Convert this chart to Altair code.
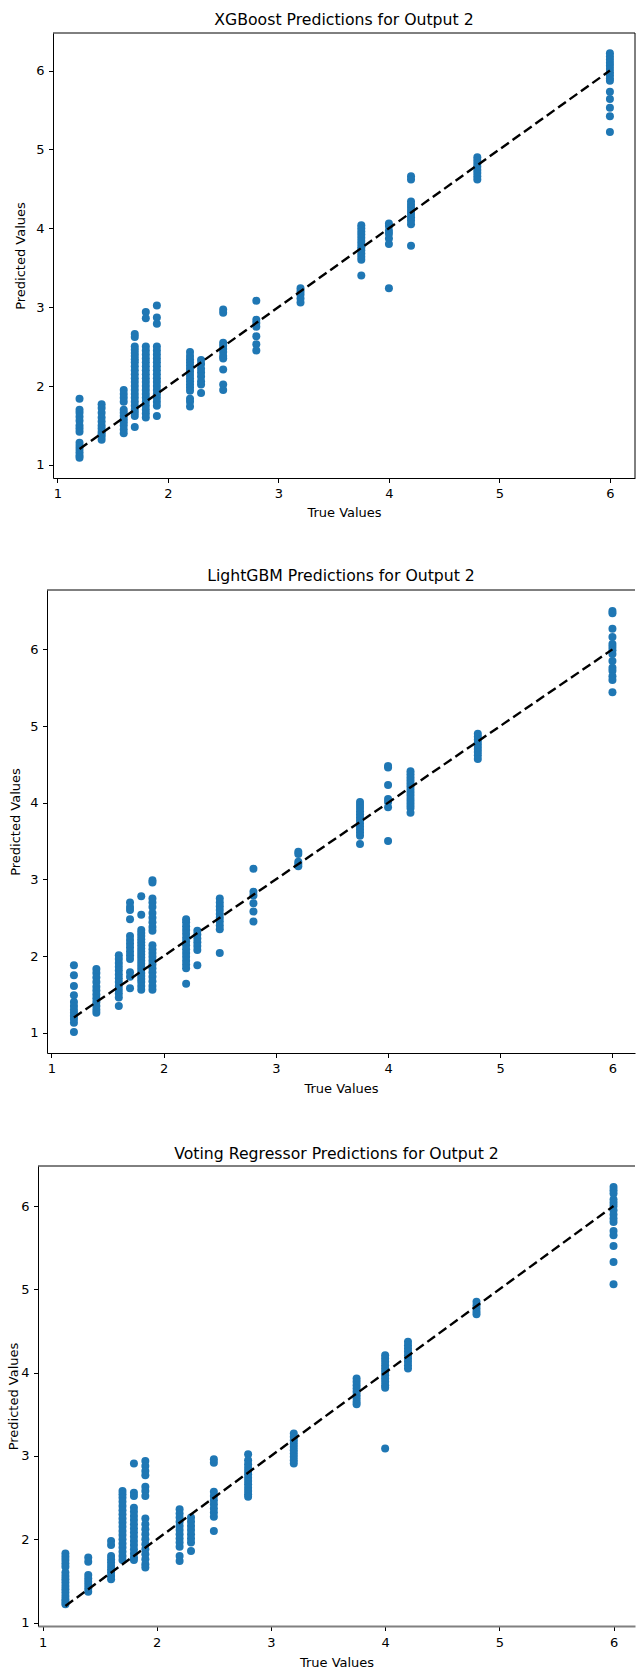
import altair as alt
import pandas as pd

# Distinct true target levels (x positions of the vertical clusters)
TRUE_LEVELS = [1.2, 1.4, 1.6, 1.7, 1.8, 1.9, 2.2, 2.3, 2.5, 2.8, 3.2, 3.75, 4.0, 4.2, 4.8, 6.0]

# Predicted values for each true level, one list per level
XGB_PRED = [
    [1.84, 1.70, 1.66, 1.61, 1.56, 1.50, 1.46, 1.42, 1.28, 1.24, 1.20, 1.16, 1.12, 1.09],
    [1.77, 1.72, 1.66, 1.60, 1.55, 1.50, 1.46, 1.42, 1.39, 1.36, 1.32],
    [1.95, 1.90, 1.85, 1.80, 1.70, 1.66, 1.62, 1.58, 1.54, 1.50, 1.45, 1.40],
    [2.66, 2.62, 2.50, 2.46, 2.42, 2.38, 2.34, 2.30, 2.25, 2.20, 2.15, 2.10, 2.05, 2.00,
     1.95, 1.90, 1.85, 1.80, 1.75, 1.70, 1.66, 1.62, 1.48],
    [2.94, 2.86, 2.50, 2.45, 2.40, 2.35, 2.30, 2.25, 2.20, 2.15, 2.10, 2.05, 2.00, 1.95,
     1.90, 1.85, 1.80, 1.75, 1.70, 1.65, 1.60],
    [3.02, 2.87, 2.79, 2.50, 2.45, 2.40, 2.35, 2.30, 2.25, 2.20, 2.15, 2.10, 2.05, 2.00,
     1.95, 1.90, 1.85, 1.80, 1.75, 1.62],
    [2.43, 2.38, 2.34, 2.30, 2.26, 2.22, 2.18, 2.14, 2.10, 2.06, 2.02, 1.98, 1.94, 1.84, 1.80, 1.74],
    [2.33, 2.28, 2.22, 2.17, 2.12, 2.06, 2.02, 1.91],
    [2.97, 2.93, 2.55, 2.51, 2.47, 2.43, 2.38, 2.35, 2.21, 2.02, 1.95],
    [3.08, 2.84, 2.80, 2.75, 2.63, 2.53, 2.45],
    [3.24, 3.20, 3.16, 3.11, 3.06],
    [4.04, 4.00, 3.96, 3.92, 3.88, 3.84, 3.80, 3.76, 3.72, 3.68, 3.64, 3.60, 3.40],
    [4.06, 4.03, 3.97, 3.93, 3.87, 3.80, 3.24],
    [4.66, 4.62, 4.34, 4.30, 4.26, 4.22, 4.18, 4.14, 4.10, 4.05, 3.78],
    [4.90, 4.86, 4.82, 4.78, 4.74, 4.70, 4.66, 4.62],
    [6.22, 6.18, 6.14, 6.10, 6.06, 6.02, 5.98, 5.94, 5.90, 5.87, 5.73, 5.64, 5.53, 5.42, 5.22],
]

LGBM_PRED = [
    [1.88, 1.75, 1.61, 1.49, 1.40, 1.35, 1.30, 1.26, 1.22, 1.18, 1.13, 1.01],
    [1.83, 1.78, 1.72, 1.66, 1.60, 1.55, 1.50, 1.45, 1.40, 1.35, 1.30, 1.26],
    [2.01, 1.96, 1.91, 1.86, 1.81, 1.76, 1.71, 1.66, 1.61, 1.56, 1.51, 1.46, 1.35],
    [2.70, 2.64, 2.60, 2.48, 2.26, 2.21, 2.16, 2.11, 2.06, 2.01, 1.96, 1.79, 1.73, 1.58],
    [2.78, 2.54, 2.34, 2.30, 2.26, 2.22, 2.18, 2.14, 2.10, 2.06, 2.02, 1.98, 1.94, 1.90,
     1.86, 1.82, 1.78, 1.74, 1.70, 1.66, 1.61, 1.56],
    [2.99, 2.96, 2.75, 2.70, 2.64, 2.56, 2.50, 2.44, 2.38, 2.33, 2.14, 2.09, 2.04, 1.99,
     1.94, 1.89, 1.84, 1.79, 1.73, 1.67, 1.61, 1.56],
    [2.48, 2.44, 2.39, 2.34, 2.29, 2.24, 2.19, 2.14, 2.09, 2.04, 1.99, 1.94, 1.89, 1.84, 1.64],
    [2.33, 2.28, 2.23, 2.18, 2.13, 2.08, 1.88],
    [2.75, 2.70, 2.65, 2.60, 2.55, 2.50, 2.45, 2.40, 2.35, 2.04],
    [3.14, 2.84, 2.79, 2.69, 2.58, 2.45],
    [3.36, 3.33, 3.23, 3.20, 3.17],
    [4.01, 3.97, 3.93, 3.89, 3.85, 3.81, 3.77, 3.73, 3.69, 3.65, 3.61, 3.57, 3.46],
    [4.48, 4.46, 4.23, 4.05, 4.01, 3.94, 3.50],
    [4.41, 4.37, 4.33, 4.29, 4.25, 4.21, 4.17, 4.13, 4.09, 4.05, 4.01, 3.97, 3.93, 3.87],
    [4.90, 4.86, 4.82, 4.78, 4.74, 4.70, 4.66, 4.62, 4.57],
    [6.50, 6.47, 6.27, 6.16, 6.07, 6.03, 5.99, 5.94, 5.85, 5.76, 5.72, 5.65, 5.60, 5.44],
]

VOTE_PRED = [
    [1.83, 1.79, 1.75, 1.71, 1.67, 1.60, 1.56, 1.52, 1.48, 1.44, 1.40, 1.36, 1.32, 1.28, 1.25, 1.22],
    [1.78, 1.73, 1.57, 1.53, 1.49, 1.45, 1.41, 1.37],
    [1.98, 1.93, 1.80, 1.76, 1.72, 1.68, 1.64, 1.60, 1.56, 1.52],
    [2.58, 2.54, 2.50, 2.45, 2.40, 2.35, 2.30, 2.25, 2.20, 2.15, 2.10, 2.05, 2.00, 1.95,
     1.90, 1.85, 1.80, 1.75],
    [2.91, 2.56, 2.52, 2.38, 2.33, 2.28, 2.23, 2.18, 2.13, 2.08, 2.03, 1.98, 1.93, 1.88,
     1.83, 1.78, 1.75],
    [2.94, 2.88, 2.82, 2.77, 2.63, 2.58, 2.52, 2.25, 2.18, 2.12, 2.06, 2.00, 1.94, 1.88,
     1.82, 1.76, 1.70, 1.66],
    [2.36, 2.31, 2.26, 2.21, 2.16, 2.11, 2.06, 2.01, 1.96, 1.91, 1.80, 1.74],
    [2.26, 2.21, 2.16, 2.11, 2.06, 2.01, 1.96, 1.86],
    [2.96, 2.92, 2.57, 2.52, 2.47, 2.42, 2.37, 2.32, 2.27, 2.10],
    [3.02, 2.95, 2.90, 2.86, 2.82, 2.78, 2.74, 2.70, 2.66, 2.62, 2.58, 2.54, 2.51],
    [3.27, 3.23, 3.19, 3.15, 3.11, 3.07, 3.03, 2.99, 2.95, 2.91],
    [3.93, 3.89, 3.85, 3.81, 3.77, 3.73, 3.69, 3.65, 3.62],
    [4.21, 4.17, 4.13, 4.09, 4.05, 4.01, 3.97, 3.93, 3.89, 3.85, 3.82, 3.09],
    [4.37, 4.33, 4.29, 4.25, 4.21, 4.17, 4.13, 4.09, 4.05],
    [4.85, 4.81, 4.77, 4.73, 4.70],
    [6.23, 6.19, 6.15, 6.08, 6.04, 6.00, 5.95, 5.90, 5.85, 5.81, 5.70, 5.65, 5.52, 5.33, 5.06],
]

TITLES = [
    "XGBoost Predictions for Output 2",
    "LightGBM Predictions for Output 2",
    "Voting Regressor Predictions for Output 2",
]
TICKS = [1, 2, 3, 4, 5, 6]

FONT = "DejaVu Sans"
BLUE = "#1f77b4"
ONE_ROW = pd.DataFrame({"k": [0]})


def long_table(preds):
    rows = [(t, p) for t, ps in zip(TRUE_LEVELS, preds) for p in ps]
    return pd.DataFrame(rows, columns=["true", "pred"])


def panel(title, preds, width, height, xdom, ydom, left_extent, bottom_extent,
          ytitle_x, xtitle_y, title_offset, title_dy, right_border,
          bottom_color="black", bottom_width=1, x_label_pad=4.5):
    df = long_table(preds)
    x_scale = alt.Scale(domain=xdom, nice=False, zero=False)
    y_scale = alt.Scale(domain=ydom, nice=False, zero=False)
    common = dict(
        values=TICKS, grid=False,
        tickColor="black", tickSize=4.5, tickWidth=1,
        labelFont=FONT, labelFontSize=13, labelColor="black", labelFlush=False,
        titleFont=FONT, titleFontSize=13, titleFontWeight="normal", titleColor="black",
    )
    x_axis = alt.Axis(title="True Values", titleY=xtitle_y, titleBaseline="middle",
                      domainColor=bottom_color, domainWidth=bottom_width,
                      labelPadding=x_label_pad, **common)
    y_axis = alt.Axis(title="Predicted Values", titleX=ytitle_x, titleY=height / 2,
                      titleAngle=270, titleAlign="center", titleBaseline="middle",
                      domainColor="black", domainWidth=1, labelPadding=4.5, **common)

    points = alt.Chart(df).mark_circle(size=64, color=BLUE, opacity=1).encode(
        x=alt.X("true:Q", scale=x_scale, axis=x_axis),
        y=alt.Y("pred:Q", scale=y_scale, axis=y_axis),
    )
    # identity reference from the lowest to the highest true level
    ends = [min(TRUE_LEVELS), max(TRUE_LEVELS)]
    ident = pd.DataFrame({"true": ends, "pred": ends})
    line = alt.Chart(ident).mark_line(color="black", strokeWidth=2.4, strokeDash=[9.5, 4.5]).encode(
        x=alt.X("true:Q", scale=x_scale, axis=x_axis),
        y=alt.Y("pred:Q", scale=y_scale, axis=y_axis),
    )
    # invisible guide that fixes the panel's outer extent (left margin / space below)
    extent = alt.Chart(ONE_ROW).mark_rule(opacity=0, strokeWidth=0).encode(
        x=alt.value(-left_extent), x2=alt.value(0),
        y=alt.value(height), y2=alt.value(height + bottom_extent),
    )
    top_edge = alt.Chart(ONE_ROW).mark_rule(color="black", strokeWidth=1).encode(
        x=alt.value(0), x2=alt.value(width), y=alt.value(0)
    )
    layers = [extent, top_edge]
    if right_border:
        layers.append(alt.Chart(ONE_ROW).mark_rule(color="black", strokeWidth=1).encode(
            x=alt.value(width), y=alt.value(0), y2=alt.value(height)
        ))
    layers += [points, line]
    return alt.layer(*layers).properties(
        width=width, height=height,
        title=alt.TitleParams(title, font=FONT, fontSize=15.7, fontWeight="normal",
                              color="black", offset=title_offset, dy=title_dy,
                              baseline="alphabetic", frame="group", anchor="middle"),
    )


def spacer(w):
    return alt.Chart(ONE_ROW).mark_rule(opacity=0, strokeWidth=0).encode(
        x=alt.value(0), x2=alt.value(w), y=alt.value(0)
    ).properties(width=w, height=1)


p1 = panel(TITLES[0], XGB_PRED, 582, 445, [0.96, 6.227], [0.8335, 6.4765],
           left_extent=40, bottom_extent=90, ytitle_x=-32.7, xtitle_y=34,
           title_offset=7.5, title_dy=16, right_border=True)
p2 = panel(TITLES[1], LGBM_PRED, 588, 463, [0.96, 6.201], [0.7355, 6.7745],
           left_extent=39, bottom_extent=92, ytitle_x=-31.6, xtitle_y=35,
           title_offset=10, title_dy=17.5, right_border=False)
p3 = panel(TITLES[2], VOTE_PRED, 597, 460, [0.96, 6.188], [0.959, 6.481],
           left_extent=37, bottom_extent=0, ytitle_x=-25, xtitle_y=36,
           title_offset=7.5, title_dy=16.5, right_border=False,
           bottom_color="#808080", bottom_width=2, x_label_pad=5.5)

rows = [
    alt.hconcat(spacer(13), p1, spacing=0),
    alt.hconcat(spacer(8), p2, spacing=0),
    alt.hconcat(spacer(1), p3, spacing=0),
]

chart = alt.vconcat(*rows, spacing=0).properties(
    padding={"top": 12, "left": 0, "right": 0, "bottom": 0},
    background="white",
).configure_view(strokeWidth=0)

chart.save("out.html", embed_options={"renderer": "svg", "actions": False})
